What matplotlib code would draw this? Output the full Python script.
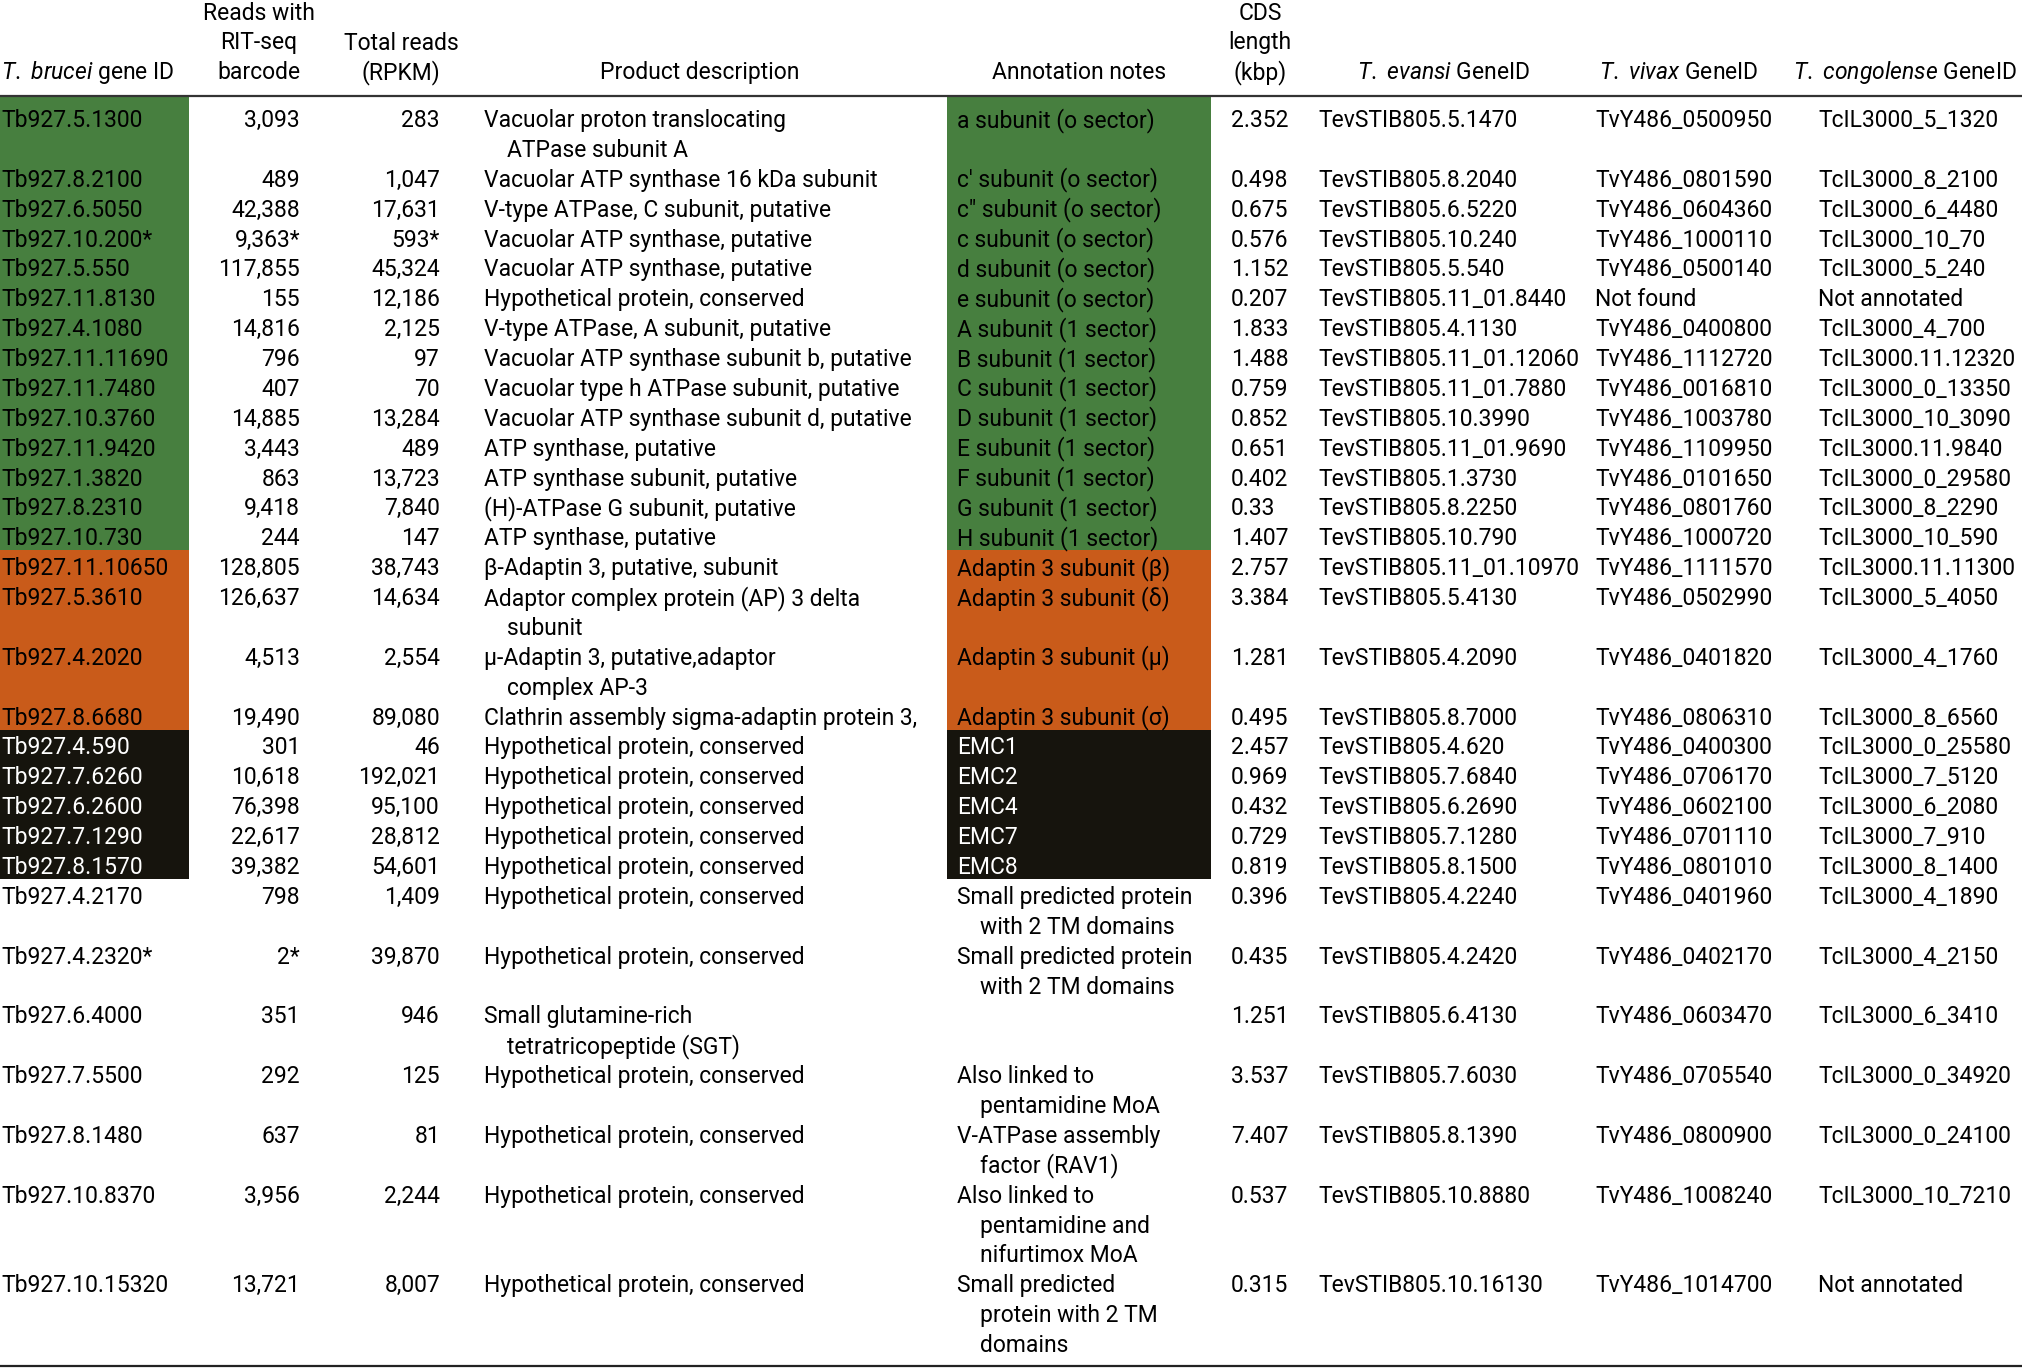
import matplotlib.pyplot as plt
from matplotlib.patches import Rectangle

plt.rcParams['font.family'] = ['Roboto', 'DejaVu Sans']
plt.rcParams['mathtext.fontset'] = 'custom'
plt.rcParams['mathtext.rm'] = 'Roboto'
plt.rcParams['mathtext.it'] = 'Roboto:italic'

# ---- table data ----
gene_ids = ['Tb927.5.1300', 'Tb927.8.2100', 'Tb927.6.5050', 'Tb927.10.200*', 'Tb927.5.550',
            'Tb927.11.8130', 'Tb927.4.1080', 'Tb927.11.11690', 'Tb927.11.7480', 'Tb927.10.3760',
            'Tb927.11.9420', 'Tb927.1.3820', 'Tb927.8.2310', 'Tb927.10.730',
            'Tb927.11.10650', 'Tb927.5.3610', 'Tb927.4.2020', 'Tb927.8.6680',
            'Tb927.4.590', 'Tb927.7.6260', 'Tb927.6.2600', 'Tb927.7.1290', 'Tb927.8.1570',
            'Tb927.4.2170', 'Tb927.4.2320*', 'Tb927.6.4000', 'Tb927.7.5500', 'Tb927.8.1480',
            'Tb927.10.8370', 'Tb927.10.15320']
barcode_reads = ['3,093', '489', '42,388', '9,363*', '117,855', '155', '14,816', '796', '407', '14,885',
                 '3,443', '863', '9,418', '244', '128,805', '126,637', '4,513', '19,490',
                 '301', '10,618', '76,398', '22,617', '39,382', '798', '2*', '351', '292', '637',
                 '3,956', '13,721']
total_reads = ['283', '1,047', '17,631', '593*', '45,324', '12,186', '2,125', '97', '70', '13,284',
               '489', '13,723', '7,840', '147', '38,743', '14,634', '2,554', '89,080',
               '46', '192,021', '95,100', '28,812', '54,601', '1,409', '39,870', '946', '125', '81',
               '2,244', '8,007']
hyp = 'Hypothetical protein, conserved'
product = ['Vacuolar proton translocating\nATPase subunit A', 'Vacuolar ATP synthase 16 kDa subunit',
           'V-type ATPase, C subunit, putative', 'Vacuolar ATP synthase, putative',
           'Vacuolar ATP synthase, putative', hyp, 'V-type ATPase, A subunit, putative',
           'Vacuolar ATP synthase subunit b, putative', 'Vacuolar type h ATPase subunit, putative',
           'Vacuolar ATP synthase subunit d, putative', 'ATP synthase, putative',
           'ATP synthase subunit, putative', '(H)-ATPase G subunit, putative', 'ATP synthase, putative',
           'β-Adaptin 3, putative, subunit', 'Adaptor complex protein (AP) 3 delta\nsubunit',
           'μ-Adaptin 3, putative,adaptor\ncomplex AP-3', 'Clathrin assembly sigma-adaptin protein 3,',
           hyp, hyp, hyp, hyp, hyp, hyp, hyp,
           'Small glutamine-rich\ntetratricopeptide (SGT)', hyp, hyp, hyp, hyp]
annotation = ['a subunit (o sector)', 'c\u2032 subunit (o sector)', 'c\u2033 subunit (o sector)',
              'c subunit (o sector)', 'd subunit (o sector)', 'e subunit (o sector)',
              'A subunit (1 sector)', 'B subunit (1 sector)', 'C subunit (1 sector)',
              'D subunit (1 sector)', 'E subunit (1 sector)', 'F subunit (1 sector)',
              'G subunit (1 sector)', 'H subunit (1 sector)',
              'Adaptin 3 subunit (β)', 'Adaptin 3 subunit (δ)', 'Adaptin 3 subunit (μ)',
              'Adaptin 3 subunit (σ)', 'EMC1', 'EMC2', 'EMC4', 'EMC7', 'EMC8',
              'Small predicted protein\nwith 2 TM domains', 'Small predicted protein\nwith 2 TM domains',
              '', 'Also linked to\npentamidine MoA', 'V-ATPase assembly\nfactor (RAV1)',
              'Also linked to\npentamidine and\nnifurtimox MoA', 'Small predicted\nprotein with 2 TM\ndomains']
cds_kbp = ['2.352', '0.498', '0.675', '0.576', '1.152', '0.207', '1.833', '1.488', '0.759', '0.852',
           '0.651', '0.402', '0.33', '1.407', '2.757', '3.384', '1.281', '0.495',
           '2.457', '0.969', '0.432', '0.729', '0.819', '0.396', '0.435', '1.251', '3.537', '7.407',
           '0.537', '0.315']
evansi_ids = ['TevSTIB805.5.1470', 'TevSTIB805.8.2040', 'TevSTIB805.6.5220', 'TevSTIB805.10.240',
              'TevSTIB805.5.540', 'TevSTIB805.11_01.8440', 'TevSTIB805.4.1130', 'TevSTIB805.11_01.12060',
              'TevSTIB805.11_01.7880', 'TevSTIB805.10.3990', 'TevSTIB805.11_01.9690', 'TevSTIB805.1.3730',
              'TevSTIB805.8.2250', 'TevSTIB805.10.790', 'TevSTIB805.11_01.10970', 'TevSTIB805.5.4130',
              'TevSTIB805.4.2090', 'TevSTIB805.8.7000', 'TevSTIB805.4.620', 'TevSTIB805.7.6840',
              'TevSTIB805.6.2690', 'TevSTIB805.7.1280', 'TevSTIB805.8.1500', 'TevSTIB805.4.2240',
              'TevSTIB805.4.2420', 'TevSTIB805.6.4130', 'TevSTIB805.7.6030', 'TevSTIB805.8.1390',
              'TevSTIB805.10.8880', 'TevSTIB805.10.16130']
vivax_ids = ['TvY486_0500950', 'TvY486_0801590', 'TvY486_0604360', 'TvY486_1000110', 'TvY486_0500140',
             'Not found', 'TvY486_0400800', 'TvY486_1112720', 'TvY486_0016810', 'TvY486_1003780',
             'TvY486_1109950', 'TvY486_0101650', 'TvY486_0801760', 'TvY486_1000720', 'TvY486_1111570',
             'TvY486_0502990', 'TvY486_0401820', 'TvY486_0806310', 'TvY486_0400300', 'TvY486_0706170',
             'TvY486_0602100', 'TvY486_0701110', 'TvY486_0801010', 'TvY486_0401960', 'TvY486_0402170',
             'TvY486_0603470', 'TvY486_0705540', 'TvY486_0800900', 'TvY486_1008240', 'TvY486_1014700']
congolense_ids = ['TcIL3000_5_1320', 'TcIL3000_8_2100', 'TcIL3000_6_4480', 'TcIL3000_10_70',
                  'TcIL3000_5_240', 'Not annotated', 'TcIL3000_4_700', 'TcIL3000.11.12320',
                  'TcIL3000_0_13350', 'TcIL3000_10_3090', 'TcIL3000.11.9840', 'TcIL3000_0_29580',
                  'TcIL3000_8_2290', 'TcIL3000_10_590', 'TcIL3000.11.11300', 'TcIL3000_5_4050',
                  'TcIL3000_4_1760', 'TcIL3000_8_6560', 'TcIL3000_0_25580', 'TcIL3000_7_5120',
                  'TcIL3000_6_2080', 'TcIL3000_7_910', 'TcIL3000_8_1400', 'TcIL3000_4_1890',
                  'TcIL3000_4_2150', 'TcIL3000_6_3410', 'TcIL3000_0_34920', 'TcIL3000_0_24100',
                  'TcIL3000_10_7210', 'Not annotated']
groups = ['vatp'] * 14 + ['ap3'] * 4 + ['emc'] * 5 + [''] * 7

group_colors = {'vatp': '#477f3f', 'ap3': '#c95b1a', 'emc': '#16140d'}

# ---- layout (pixels, figure is 2022 x 1368) ----
W, H = 2022, 1368
FS = 16.5
PITCH = 29.88
BASE0 = 127
RULE_Y = 96
INDENT = 23

fig = plt.figure(figsize=(W / 100, H / 100), dpi=100)
ax = fig.add_axes([0, 0, 1, 1])
ax.set_xlim(0, W)
ax.set_ylim(H, 0)
ax.axis('off')

# header
head_base = [20, 49.5, 79]
headers = [
    (['$\\mathit{T.\\ brucei}$ gene ID'], 1, 'left'),
    (['Reads with', 'RIT-seq', 'barcode'], 259, 'center'),
    (['Total reads', '(RPKM)'], 401, 'center'),
    (['Product description'], 700, 'center'),
    (['Annotation notes'], 1079, 'center'),
    (['CDS', 'length', '(kbp)'], 1260, 'center'),
    (['$\\mathit{T.\\ evansi}$ GeneID'], 1444, 'center'),
    (['$\\mathit{T.\\ vivax}$ GeneID'], 1679, 'center'),
    (['$\\mathit{T.\\ congolense}$ GeneID'], 1905, 'center'),
]
for lines, x, ha in headers:
    for k, s in enumerate(lines):
        y = head_base[3 - len(lines) + k]
        ax.text(x, y, s, fontsize=FS, ha=ha, va='baseline')

ax.plot([0, W], [RULE_Y, RULE_Y], color='#333333', lw=1.6, solid_capstyle='butt')
ax.plot([0, W], [H - 2, H - 2], color='#222222', lw=1.6, solid_capstyle='butt')

# row baselines
row_line = []
n = 0
for i in range(len(gene_ids)):
    row_line.append(n)
    n += max(product[i].count('\n'), annotation[i].count('\n')) + 1
nlines = [max(product[i].count('\n'), annotation[i].count('\n')) + 1 for i in range(len(gene_ids))]

# coloured cells (first column and annotation column)
top = RULE_Y + 1
i = 0
while i < len(groups):
    g = groups[i]
    j = i
    while j < len(groups) and groups[j] == g:
        j += 1
    last = j - 1
    bottom = BASE0 + PITCH * (row_line[last] + nlines[last] - 1) + 5
    if g:
        for x0, x1 in [(0, 189), (947, 1211)]:
            ax.add_patch(Rectangle((x0, top), x1 - x0, bottom - top,
                                   facecolor=group_colors[g], edgecolor='none', zorder=0))
    top = bottom
    i = j


def put(x, y, s, ha='left', color='black', indent=0):
    for k, part in enumerate(s.split('\n')):
        ax.text(x + (indent if k > 0 else 0), y + k * PITCH, part, fontsize=FS,
                ha=ha, va='baseline', color=color, zorder=2)


for i in range(len(gene_ids)):
    y = BASE0 + PITCH * row_line[i]
    tc = 'white' if groups[i] == 'emc' else 'black'
    put(1, y, gene_ids[i], color=tc)
    put(300, y, barcode_reads[i], ha='right')
    put(440, y, total_reads[i], ha='right')
    put(484, y, product[i], indent=INDENT)
    put(957, y, annotation[i], color=tc, indent=INDENT)
    put(1231, y, cds_kbp[i])
    put(1318, y, evansi_ids[i])
    put(1595, y, vivax_ids[i])
    put(1818, y, congolense_ids[i])

fig.savefig('out.png', dpi=100, facecolor='white')
